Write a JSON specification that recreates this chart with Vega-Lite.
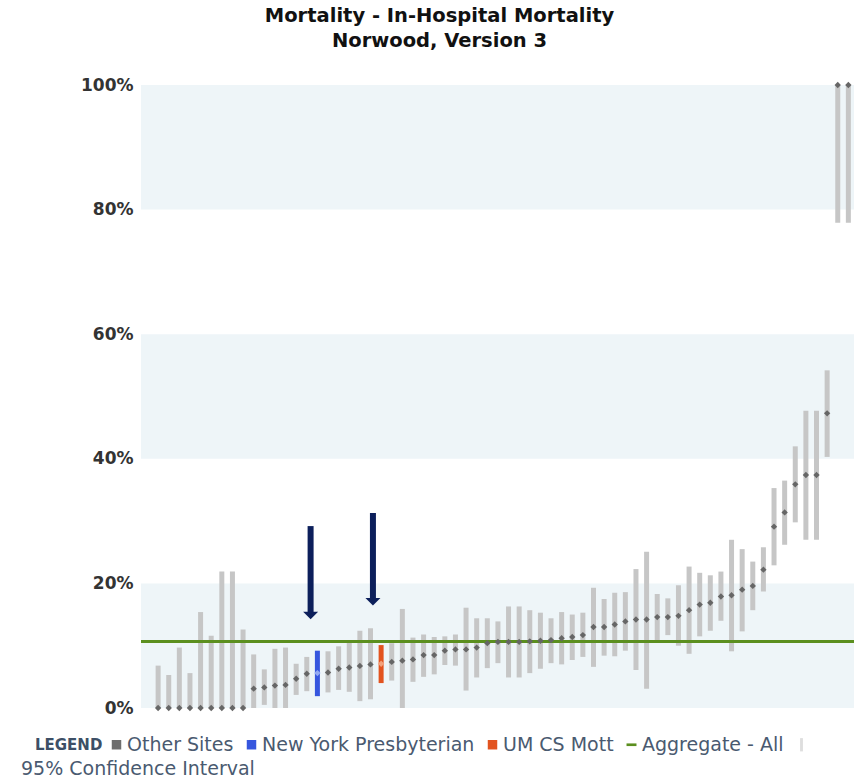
{
  "$schema": "https://vega.github.io/schema/vega-lite/v6.json",
  "autosize": {"type": "none"},
  "padding": {"left": 141, "top": 85, "right": 0, "bottom": 73},
  "width": 713,
  "height": 623,
  "title": {
    "text": ["Mortality - In-Hospital Mortality", "Norwood, Version 3"],
    "font": "DejaVu Sans",
    "fontSize": 19.5,
    "fontWeight": "bold",
    "color": "#111111",
    "anchor": "middle",
    "dx": -58,
    "offset": 25,
    "lineHeight": 25
  },
  "config": {
    "font": "DejaVu Sans",
    "view": {"stroke": null}
  },
  "datasets": {
    "sites": [
      {"i": 1, "lo": 0, "hi": 6.8, "rate": 0, "group": "Other Sites"},
      {"i": 2, "lo": 0, "hi": 5.3, "rate": 0, "group": "Other Sites"},
      {"i": 3, "lo": 0, "hi": 9.7, "rate": 0, "group": "Other Sites"},
      {"i": 4, "lo": 0, "hi": 5.6, "rate": 0, "group": "Other Sites"},
      {"i": 5, "lo": 0, "hi": 15.4, "rate": 0, "group": "Other Sites"},
      {"i": 6, "lo": 0, "hi": 11.6, "rate": 0, "group": "Other Sites"},
      {"i": 7, "lo": 0, "hi": 21.9, "rate": 0, "group": "Other Sites"},
      {"i": 8, "lo": 0, "hi": 21.9, "rate": 0, "group": "Other Sites"},
      {"i": 9, "lo": 0, "hi": 12.6, "rate": 0, "group": "Other Sites"},
      {"i": 10, "lo": 0, "hi": 8.6, "rate": 3.1, "group": "Other Sites"},
      {"i": 11, "lo": 0.5, "hi": 6.2, "rate": 3.3, "group": "Other Sites"},
      {"i": 12, "lo": 0, "hi": 9.5, "rate": 3.6, "group": "Other Sites"},
      {"i": 13, "lo": 0, "hi": 9.7, "rate": 3.7, "group": "Other Sites"},
      {"i": 14, "lo": 2.1, "hi": 7.1, "rate": 4.7, "group": "Other Sites"},
      {"i": 15, "lo": 2.7, "hi": 8.2, "rate": 5.5, "group": "Other Sites"},
      {"i": 16, "lo": 1.9, "hi": 9.2, "rate": 5.6, "group": "New York Presbyterian"},
      {"i": 17, "lo": 2.5, "hi": 9.1, "rate": 5.7, "group": "Other Sites"},
      {"i": 18, "lo": 2.9, "hi": 9.9, "rate": 6.3, "group": "Other Sites"},
      {"i": 19, "lo": 2.6, "hi": 10.7, "rate": 6.5, "group": "Other Sites"},
      {"i": 20, "lo": 1.1, "hi": 12.4, "rate": 6.75, "group": "Other Sites"},
      {"i": 21, "lo": 1.4, "hi": 12.8, "rate": 7.0, "group": "Other Sites"},
      {"i": 22, "lo": 4.0, "hi": 10.1, "rate": 7.1, "group": "UM CS Mott"},
      {"i": 23, "lo": 4.4, "hi": 10.4, "rate": 7.4, "group": "Other Sites"},
      {"i": 24, "lo": 0, "hi": 15.9, "rate": 7.6, "group": "Other Sites"},
      {"i": 25, "lo": 4.2, "hi": 11.3, "rate": 7.8, "group": "Other Sites"},
      {"i": 26, "lo": 5.0, "hi": 11.8, "rate": 8.5, "group": "Other Sites"},
      {"i": 27, "lo": 5.4, "hi": 11.4, "rate": 8.5, "group": "Other Sites"},
      {"i": 28, "lo": 6.9, "hi": 11.5, "rate": 9.2, "group": "Other Sites"},
      {"i": 29, "lo": 6.8, "hi": 11.8, "rate": 9.4, "group": "Other Sites"},
      {"i": 30, "lo": 2.8, "hi": 16.1, "rate": 9.4, "group": "Other Sites"},
      {"i": 31, "lo": 4.9, "hi": 14.4, "rate": 9.7, "group": "Other Sites"},
      {"i": 32, "lo": 6.4, "hi": 14.4, "rate": 10.4, "group": "Other Sites"},
      {"i": 33, "lo": 7.2, "hi": 13.9, "rate": 10.6, "group": "Other Sites"},
      {"i": 34, "lo": 4.9, "hi": 16.3, "rate": 10.6, "group": "Other Sites"},
      {"i": 35, "lo": 4.9, "hi": 16.3, "rate": 10.6, "group": "Other Sites"},
      {"i": 36, "lo": 5.6, "hi": 15.7, "rate": 10.7, "group": "Other Sites"},
      {"i": 37, "lo": 6.3, "hi": 15.3, "rate": 10.8, "group": "Other Sites"},
      {"i": 38, "lo": 7.2, "hi": 14.4, "rate": 10.9, "group": "Other Sites"},
      {"i": 39, "lo": 7.0, "hi": 15.4, "rate": 11.2, "group": "Other Sites"},
      {"i": 40, "lo": 7.7, "hi": 15.0, "rate": 11.4, "group": "Other Sites"},
      {"i": 41, "lo": 8.2, "hi": 15.3, "rate": 11.7, "group": "Other Sites"},
      {"i": 42, "lo": 6.6, "hi": 19.3, "rate": 13.0, "group": "Other Sites"},
      {"i": 43, "lo": 8.4, "hi": 17.5, "rate": 13.0, "group": "Other Sites"},
      {"i": 44, "lo": 8.3, "hi": 18.5, "rate": 13.4, "group": "Other Sites"},
      {"i": 45, "lo": 9.2, "hi": 18.6, "rate": 13.9, "group": "Other Sites"},
      {"i": 46, "lo": 6.1, "hi": 22.3, "rate": 14.2, "group": "Other Sites"},
      {"i": 47, "lo": 3.1, "hi": 25.1, "rate": 14.2, "group": "Other Sites"},
      {"i": 48, "lo": 10.8, "hi": 18.3, "rate": 14.6, "group": "Other Sites"},
      {"i": 49, "lo": 11.7, "hi": 17.6, "rate": 14.6, "group": "Other Sites"},
      {"i": 50, "lo": 10.0, "hi": 19.7, "rate": 14.8, "group": "Other Sites"},
      {"i": 51, "lo": 8.7, "hi": 22.7, "rate": 15.7, "group": "Other Sites"},
      {"i": 52, "lo": 11.5, "hi": 21.7, "rate": 16.6, "group": "Other Sites"},
      {"i": 53, "lo": 12.4, "hi": 21.3, "rate": 16.9, "group": "Other Sites"},
      {"i": 54, "lo": 14.0, "hi": 21.9, "rate": 17.9, "group": "Other Sites"},
      {"i": 55, "lo": 9.1, "hi": 27.0, "rate": 18.1, "group": "Other Sites"},
      {"i": 56, "lo": 12.3, "hi": 25.5, "rate": 19.0, "group": "Other Sites"},
      {"i": 57, "lo": 15.7, "hi": 23.5, "rate": 19.6, "group": "Other Sites"},
      {"i": 58, "lo": 18.7, "hi": 25.8, "rate": 22.2, "group": "Other Sites"},
      {"i": 59, "lo": 22.9, "hi": 35.3, "rate": 29.1, "group": "Other Sites"},
      {"i": 60, "lo": 26.2, "hi": 36.5, "rate": 31.4, "group": "Other Sites"},
      {"i": 61, "lo": 29.8, "hi": 42.0, "rate": 35.9, "group": "Other Sites"},
      {"i": 62, "lo": 27.0, "hi": 47.7, "rate": 37.4, "group": "Other Sites"},
      {"i": 63, "lo": 27.0, "hi": 47.7, "rate": 37.4, "group": "Other Sites"},
      {"i": 64, "lo": 40.3, "hi": 54.2, "rate": 47.3, "group": "Other Sites"},
      {"i": 65, "lo": 77.9, "hi": 100, "rate": 100, "group": "Other Sites"},
      {"i": 66, "lo": 77.9, "hi": 100, "rate": 100, "group": "Other Sites"}
    ],
    "bands": [
      {"lo": 0, "hi": 20},
      {"lo": 40, "hi": 60},
      {"lo": 80, "hi": 100}
    ],
    "aggregate": [{"agg": 10.66}],
    "arrows": [
      {"x": 15.36, "top": 29.2, "tip": 14.2},
      {"x": 21.23, "top": 31.3, "tip": 16.4}
    ]
  },
  "layer": [
    {
      "data": {"name": "bands"},
      "mark": {"type": "rect", "color": "#eef5f8"},
      "encoding": {
        "y": {
          "field": "lo",
          "type": "quantitative",
          "scale": {"domain": [0, 100], "nice": false, "zero": true},
          "axis": {
            "values": [0, 20, 40, 60, 80, 100],
            "labelExpr": "datum.value + '%'",
            "labelFontSize": 17,
            "labelFontWeight": "bold",
            "labelColor": "#333333",
            "labelPadding": 8,
            "domain": false,
            "ticks": false,
            "grid": false,
            "title": null
          }
        },
        "y2": {"field": "hi"}
      }
    },
    {
      "data": {"name": "sites"},
      "mark": {"type": "bar", "size": 5, "orient": "vertical"},
      "encoding": {
        "x": {
          "field": "i",
          "type": "quantitative",
          "scale": {"domain": [-0.14, 66.06], "nice": false, "zero": false},
          "axis": null
        },
        "y": {"field": "lo", "type": "quantitative"},
        "y2": {"field": "hi"},
        "color": {
          "condition": {"test": "datum.group === 'Other Sites'", "value": "#c6c6c6"},
          "field": "group",
          "type": "nominal",
          "scale": {
            "domain": ["Other Sites", "New York Presbyterian", "UM CS Mott", "Aggregate - All", "95% Confidence Interval"],
            "range": ["#6e6e6e", "#3656de", "#e2531f", "#5b8f1f", "#dedede"]
          },
          "legend": {
            "title": "LEGEND",
            "orient": "none",
            "legendX": -106,
            "legendY": 650,
            "direction": "horizontal",
            "titleOrient": "left",
            "titleFontSize": 15,
            "titleFontWeight": "bold",
            "titleColor": "#3d4f66",
            "titlePadding": 4,
            "labelFontSize": 19,
            "labelColor": "#4a5a70",
            "labelLimit": 0,
            "labelOffset": 1,
            "columnPadding": 8,
            "symbolSize": 90,
            "labelExpr": "datum.value === '95% Confidence Interval' ? '' : datum.label",
            "encode": {
              "symbols": {
                "update": {
                  "shape": {"signal": "datum.value === 'Aggregate - All' ? 'M-1.05,-0.28L1.05,-0.28L1.05,0.28L-1.05,0.28Z' : datum.value === '95% Confidence Interval' ? 'M-0.3,-1.4L0.3,-1.4L0.3,1.4L-0.3,1.4Z' : 'square'"},
                  "strokeWidth": {"value": 0},
                  "opacity": {"value": 1}
                }
              }
            }
          }
        }
      }
    },
    {
      "data": {"name": "aggregate"},
      "mark": {"type": "rule", "strokeWidth": 3},
      "encoding": {
        "y": {"field": "agg", "type": "quantitative"},
        "color": {"datum": "Aggregate - All", "type": "nominal"},
        "strokeDash": {
          "datum": "95% Confidence Interval",
          "type": "nominal",
          "scale": {"range": [[1, 0]]},
          "legend": {
            "title": null,
            "orient": "none",
            "legendX": -139,
            "legendY": 674,
            "labelFontSize": 19,
            "labelColor": "#4a5a70",
            "labelLimit": 0,
            "labelOffset": 0,
            "symbolSize": 1,
            "symbolOpacity": 0,
            "symbolStrokeWidth": 0
          }
        }
      }
    },
    {
      "data": {"name": "sites"},
      "mark": {"type": "point", "shape": "diamond", "filled": true, "size": 40, "opacity": 1},
      "encoding": {
        "x": {"field": "i", "type": "quantitative"},
        "y": {"field": "rate", "type": "quantitative"},
        "color": {
          "condition": [
            {"test": "datum.group === 'New York Presbyterian'", "value": "#93a9f2"},
            {"test": "datum.group === 'UM CS Mott'", "value": "#f3a27c"}
          ],
          "value": "#666666"
        }
      }
    },
    {
      "data": {"name": "arrows"},
      "mark": {"type": "rule", "strokeWidth": 6, "color": "#0c1f5b", "y2Offset": -7},
      "encoding": {
        "x": {"field": "x", "type": "quantitative"},
        "y": {"field": "top", "type": "quantitative"},
        "y2": {"field": "tip"}
      }
    },
    {
      "data": {"name": "arrows"},
      "mark": {"type": "point", "shape": "M-1,-0.5L1,-0.5L0,0.5Z", "filled": true, "size": 225, "color": "#0c1f5b", "opacity": 1, "yOffset": -4},
      "encoding": {
        "x": {"field": "x", "type": "quantitative"},
        "y": {"field": "tip", "type": "quantitative"}
      }
    }
  ]
}
